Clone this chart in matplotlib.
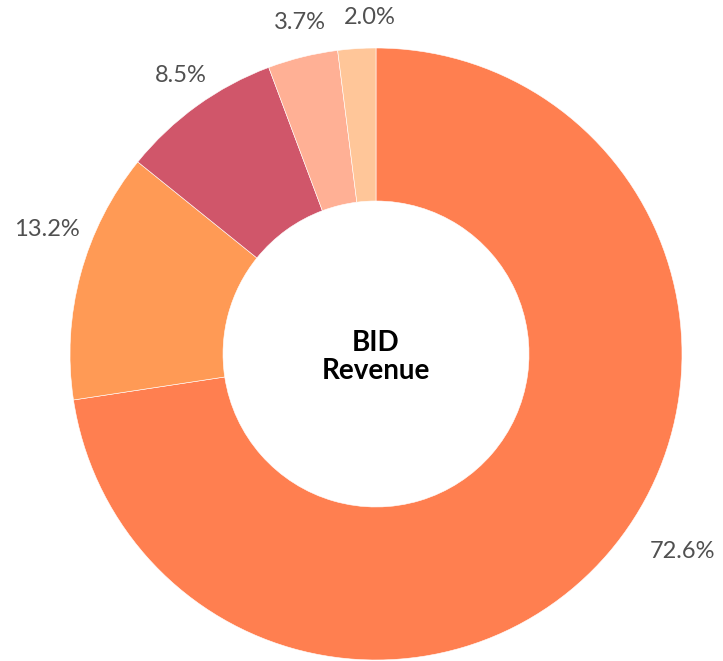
import matplotlib
matplotlib.use("Agg")
import matplotlib.pyplot as plt
import numpy as np

labels = ["72.6%", "13.2%", "8.5%", "3.7%", "2.0%"]
values = [72.6, 13.2, 8.5, 3.7, 2.0]
colors = ["#FF7F50", "#FF9A55", "#D0566A", "#FFB095", "#FFC699"]
center_title = "BID\nRevenue"

W, H = 723, 661
cx, cy, R = 376, 354, 306

fig = plt.figure(figsize=(W / 100, H / 100), dpi=100)
ax = fig.add_axes([0, 0, 1, 1])

wedges, _ = ax.pie(values, colors=colors, startangle=90, counterclock=False,
                   radius=1.0, wedgeprops=dict(width=0.5, edgecolor="white", linewidth=0.4))
ax.set_xlim(-cx / R, (W - cx) / R)
ax.set_ylim(-(H - cy) / R, cy / R)
ax.set_aspect("equal")
ax.axis("off")

# label placement: radial distance and angle tweak per label (layout only)
label_r = [1.19, 1.15, 1.11, 1.11, 1.10]
angle_shift = [7.9, -5.6, -0.8, -1.0, -2.6]
total = sum(values)
cum = 0
for i, (v, lab) in enumerate(zip(values, labels)):
    mid = 90 - (cum + v / 2) / total * 360
    cum += v
    a = np.deg2rad(mid + angle_shift[i])
    x, y = label_r[i] * np.cos(a), label_r[i] * np.sin(a)
    ax.text(x, y, lab, ha="center", va="center", fontsize=17, color="#505050",
            family="Lato", fontweight="normal")

ax.text(0, -0.01, center_title, ha="center", va="center", fontsize=20, fontweight="bold",
        family="Lato", color="black", linespacing=1.1)

fig.savefig("out.png", dpi=100)
